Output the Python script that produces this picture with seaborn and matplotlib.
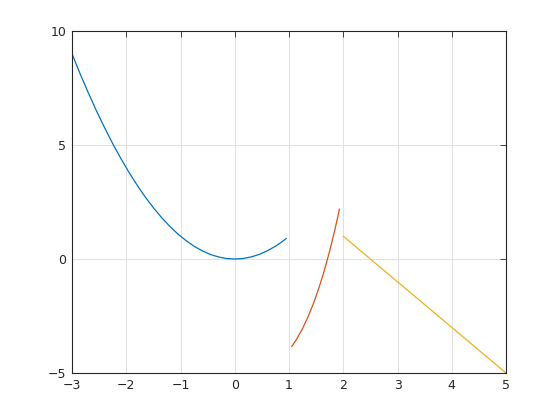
import pandas as pd
import matplotlib
matplotlib.use("Agg")
import matplotlib.pyplot as plt
import seaborn as sns

# values, three pieces
blue_x = [-3.0, -2.85, -2.7, -2.55, -2.4, -2.25, -2.1, -1.95, -1.8, -1.65,
          -1.5, -1.35, -1.2, -1.05, -0.9, -0.75, -0.6, -0.45, -0.3, -0.15,
          0.0, 0.15, 0.3, 0.45, 0.6, 0.75, 0.85, 0.95]
blue_y = [9.0, 8.12, 7.29, 6.5, 5.76, 5.06, 4.41, 3.8, 3.24, 2.72,
          2.25, 1.82, 1.44, 1.1, 0.81, 0.56, 0.36, 0.2, 0.09, 0.02,
          0.0, 0.02, 0.09, 0.2, 0.36, 0.56, 0.72, 0.9]
orange_x = [1.05, 1.15, 1.25, 1.35, 1.45, 1.55, 1.65, 1.75, 1.85, 1.93]
orange_y = [-3.84, -3.48, -3.05, -2.54, -1.95, -1.28, -0.51, 0.36, 1.33, 2.19]
yellow_x = [2.0, 5.0]
yellow_y = [1.0, -5.0]

pieces = pd.concat([
    pd.DataFrame({"x": blue_x, "y": blue_y, "piece": "a"}),
    pd.DataFrame({"x": orange_x, "y": orange_y, "piece": "b"}),
    pd.DataFrame({"x": yellow_x, "y": yellow_y, "piece": "c"}),
])

sns.set_style("white")
plt.rcParams["font.family"] = ["DejaVu Sans"]

fig = plt.figure(figsize=(5.6, 4.2), dpi=100)
ax = fig.add_axes([0.1286, 0.1119, 0.775, 0.8143])
sns.lineplot(data=pieces, x="x", y="y", hue="piece", units="piece",
             estimator=None, sort=False, legend=False, linewidth=0.9,
             palette=["#0072BD", "#D95319", "#EDB120"], ax=ax)

ax.set_xlim(-3, 5)
ax.set_ylim(-5, 10)
ax.set_xticks(range(-3, 6))
ax.set_yticks([-5, 0, 5, 10])
ax.set_xlabel("")
ax.set_ylabel("")
ax.grid(True, color="#e0e0e0", linewidth=0.7)
ax.set_axisbelow(True)
for s in ax.spines.values():
    s.set_color("#262626")
    s.set_linewidth(0.8)
    s.set_visible(True)
ax.tick_params(direction="in", length=4, width=0.6, colors="#262626",
               labelsize=9, top=True, right=True, pad=4)

fig.savefig("out.png", dpi=100)
